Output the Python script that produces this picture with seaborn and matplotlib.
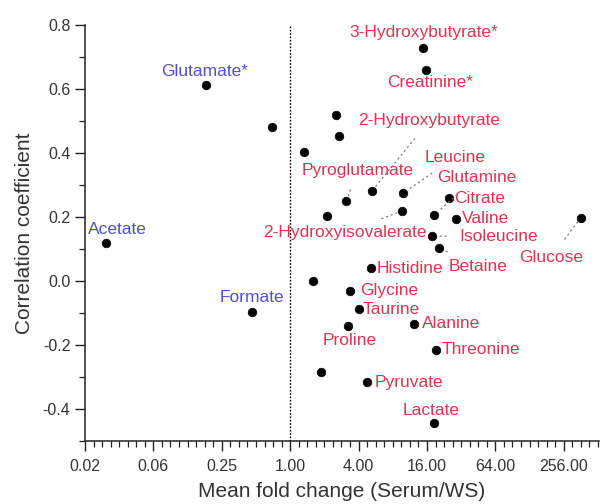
import numpy as np
import pandas as pd
import matplotlib
matplotlib.use("Agg")
import matplotlib.pyplot as plt
import seaborn as sns
from matplotlib.ticker import FixedLocator, NullFormatter

# ---- data ----
metabolites = ["Acetate", "Glutamate*", "U1", "Formate", "3-Hydroxybutyrate*", "Creatinine*",
               "U2", "U3", "U4", "2-Hydroxybutyrate", "Leucine", "Pyroglutamate",
               "Citrate", "2-Hydroxyisovalerate", "U5", "Glutamine", "Valine", "Glucose",
               "Isoleucine", "Betaine", "Histidine", "U6", "Glycine", "Taurine",
               "Proline", "Alanine", "Threonine", "U7", "Pyruvate", "Lactate"]
fold_change = [0.024, 0.183, 0.69, 0.462, 14.9, 15.8,
               2.55, 2.71, 1.31, 5.2, 9.9, 3.12,
               25.0, 9.6, 2.12, 18.6, 28.8, 362.0,
               17.8, 20.4, 5.17, 1.59, 3.34, 4.0,
               3.23, 12.4, 19.3, 1.88, 4.76, 18.3]
correlation = [0.119, 0.6125, 0.481, -0.097, 0.727, 0.66,
               0.519, 0.454, 0.404, 0.28, 0.275, 0.25,
               0.26, 0.219, 0.202, 0.207, 0.194, 0.198,
               0.14, 0.104, 0.04, 0.001, -0.03, -0.089,
               -0.141, -0.133, -0.217, -0.283, -0.317, -0.445]
group = ["down", "down", "none", "down", "up", "up",
         "none", "none", "none", "up", "up", "up",
         "up", "up", "none", "up", "up", "up",
         "up", "up", "up", "none", "up", "up",
         "up", "up", "up", "none", "up", "up"]

x_ticks = [2**-6, 2**-4, 2**-2, 1, 4, 16, 64, 256]
x_tick_labels = ["0.02", "0.06", "0.25", "1.00", "4.00", "16.00", "64.00", "256.00"]
y_ticks = [-0.4, -0.2, 0.0, 0.2, 0.4, 0.6, 0.8]
y_tick_labels = ["-0.4", "-0.2", "0.0", "0.2", "0.4", "0.6", "0.8"]

df = pd.DataFrame({"metabolite": metabolites, "fc": fold_change,
                   "r": correlation, "group": group})

# label placement: (dx, dy in pixels, ha, leader)
label_layout = {
    "Acetate": (11, 13, "center", False),
    "Glutamate*": (-2, 13, "center", False),
    "Formate": (0, 15, "center", False),
    "3-Hydroxybutyrate*": (0, 16, "center", False),
    "Creatinine*": (4, -13, "center", False),
    "2-Hydroxybutyrate": (58, 71, "center", True),
    "Pyroglutamate": (11, 31, "center", True),
    "Leucine": (52, 36, "center", True),
    "Glutamine": (42, 37, "center", True),
    "Citrate": (5, -1, "left", False),
    "Valine": (6, 0, "left", False),
    "Isoleucine": (27, 0, "left", True),
    "2-Hydroxyisovalerate": (-57, -22, "center", True),
    "Glucose": (-30, -40, "center", True),
    "Betaine": (39, -19, "center", True),
    "Histidine": (5, 0, "left", False),
    "Glycine": (10, 0, "left", False),
    "Taurine": (4, 0, "left", False),
    "Alanine": (8, 0, "left", False),
    "Proline": (2, -14, "center", False),
    "Threonine": (5, 1, "left", False),
    "Pyruvate": (7, 0, "left", False),
    "Lactate": (-2, 13, "center", False),
}

colors = {"down": "#4f4fd2", "up": "#dc3550"}

sns.set_style("ticks")
plt.rcParams["font.family"] = ["Liberation Sans", "DejaVu Sans"]

fig = plt.figure(figsize=(6.0, 5.04), dpi=100)
ax = fig.add_axes([85/600, 1 - 441/504, (599 - 85)/600, (441 - 25)/504])

sns.scatterplot(data=df, x="fc", y="r", color="black", s=38, edgecolor="black",
                linewidth=0.5, ax=ax, legend=False, zorder=3)

ax.set_xscale("log", base=2)
ax.set_xlim(2**-6, 2**9.03)
ax.set_ylim(-0.5, 0.8)

ax.axvline(1.0, color="black", linestyle=(0, (1.2, 1.2)), linewidth=1.0, zorder=1)

for _, row in df.iterrows():
    name = row["metabolite"]
    if name not in label_layout:
        continue
    dx, dy, ha, leader = label_layout[name]
    col = colors[row["group"]]
    if leader:
        ax.annotate(name, xy=(row["fc"], row["r"]), xytext=(dx, dy),
                    textcoords="offset pixels", ha=ha, va="center",
                    fontsize=12.5, color=col, zorder=4,
                    arrowprops=dict(arrowstyle="-", linestyle=(0, (1, 3)),
                                    color="#777777", lw=0.9,
                                    shrinkA=7, shrinkB=4))
    else:
        ax.annotate(name, xy=(row["fc"], row["r"]), xytext=(dx, dy),
                    textcoords="offset pixels", ha=ha, va="center",
                    fontsize=12.5, color=col, zorder=4)

ax.xaxis.set_major_locator(FixedLocator(x_ticks))
ax.set_xticklabels(x_tick_labels)
minor_x = [2**(k/4) for k in range(-24, 37) if k % 8 != 0]
ax.xaxis.set_minor_locator(FixedLocator(minor_x))
ax.xaxis.set_minor_formatter(NullFormatter())

ax.set_yticks(y_ticks)
ax.set_yticklabels(y_tick_labels)
ax.yaxis.set_minor_locator(FixedLocator([-0.5, -0.3, -0.1, 0.1, 0.3, 0.5, 0.7]))

ax.tick_params(axis="both", which="major", direction="out", length=7, width=1.0,
               labelsize=11.5, labelcolor="#333333", color="#222222")
ax.tick_params(axis="both", which="minor", direction="out", length=4, width=0.9,
               color="#222222")
ax.tick_params(axis="x", pad=6)

sns.despine(ax=ax)
for sp in ["left", "bottom"]:
    ax.spines[sp].set_linewidth(1.1)
    ax.spines[sp].set_color("#222222")

ax.set_xlabel("Mean fold change (Serum/WS)", fontsize=15, color="#333333", labelpad=6)
ax.set_ylabel("Correlation coefficient", fontsize=15, color="#333333", labelpad=6)

fig.savefig("out.png", dpi=100)
